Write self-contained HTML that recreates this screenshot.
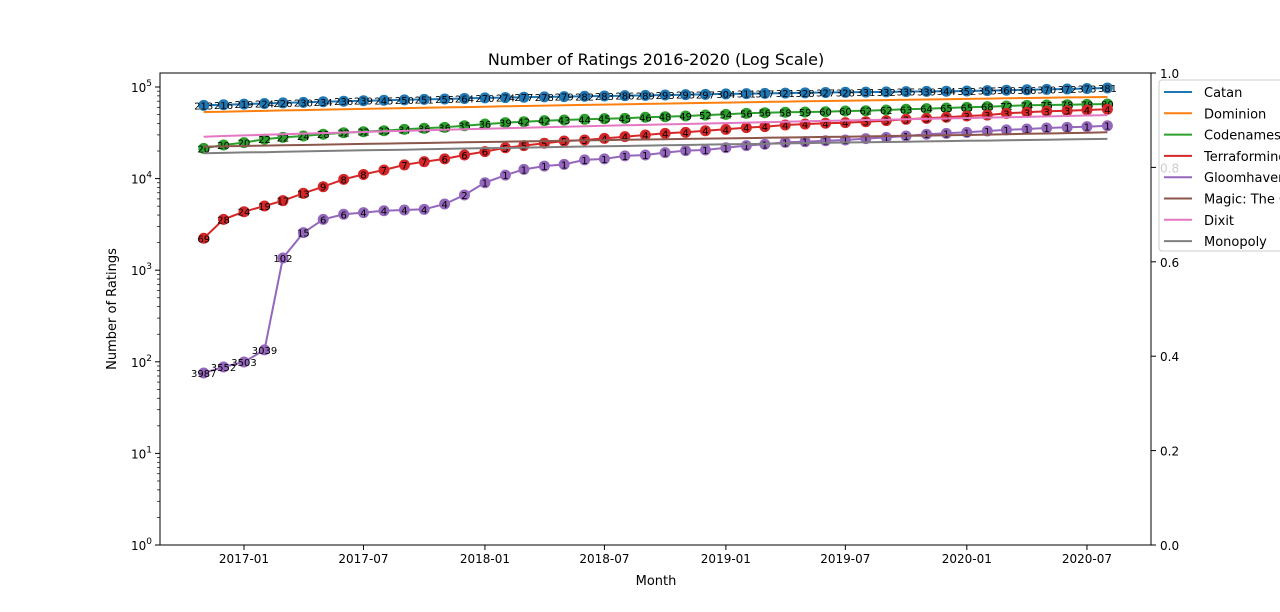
<!DOCTYPE html>
<html><head><meta charset="utf-8"><style>
body{margin:0;background:#fff;}
svg{display:block;font-family:"DejaVu Sans","Liberation Sans",sans-serif;}
</style></head><body>
<svg id="chart" width="1280" height="612" viewBox="0 0 1280 612"></svg>
<script>
const catan=[63000,64000,65000,66000,67000,68000,69000,70000,70800,71600,72400,73200,74000,75000,76000,76700,77400,78000,78600,79200,79800,80400,81000,81800,82500,83200,84000,84600,85200,85800,86400,87000,87500,88000,88500,89000,89500,90000,90500,91400,92300,93200,94200,95200,96200,97500];
const dominion=[53300,53800,54400,54900,55500,56000,56600,57100,57700,58200,58800,59300,59900,60400,61000,61500,62100,62600,63200,63700,64300,64800,65400,65900,66500,67000,67600,68100,68700,69200,69800,70300,70900,71400,72000,72500,73100,73600,74200,74700,75300,75800,76400,76900,77400,77800];
const codenames=[21400,23300,24700,26900,28200,29200,30500,31700,32500,33300,34500,35400,36300,37800,39400,40800,41800,42900,43600,44400,45100,45500,46700,47400,48200,49400,50300,51600,52400,53000,53300,53700,54700,55100,56100,57100,58000,59000,60000,61000,62100,63100,63600,64100,64600,65200];
const terraforming=[2230,3590,4350,5020,5740,6910,8160,9820,11100,12400,14100,15300,16400,18100,19700,21700,22900,24300,25700,26400,27500,28700,29900,31200,32000,33300,34500,36000,36900,38500,39400,40200,40800,41800,42900,44400,45500,46700,48200,49400,51600,53000,54300,55100,56100,57100];
const gloomhaven=[75.5,87.7,99.5,135,1360,2570,3590,4080,4250,4460,4540,4620,5280,6620,9020,10900,12600,13700,14300,16000,16400,17700,18100,19200,20200,20500,21700,22900,23700,24900,25300,25900,26400,27300,28200,29200,30500,31200,32000,33100,34000,34800,35700,36300,36900,37800];
const magic=[22300,22500,22700,22900,23100,23300,23500,23700,23900,24100,24300,24500,24700,24900,25100,25300,25500,25700,25900,26100,26300,26500,26700,26900,27100,27300,27500,27700,27900,28100,28300,28500,28700,28900,29100,29300,29500,29700,29900,30200,30500,30800,31100,31400,31700,32000];
const dixit=[28700,29200,29600,30100,30500,31000,31400,31900,32300,32800,33200,33700,34100,34600,35000,35500,35900,36400,36800,37300,37700,38200,38600,39100,39500,40000,40400,40900,41300,41800,42200,42700,43100,43600,44000,44500,44900,45400,45800,46300,46700,47200,47700,48300,48800,49400];
const monopoly=[18900,19100,19300,19400,19600,19800,20000,20200,20400,20500,20700,20900,21100,21300,21500,21600,21800,22000,22200,22400,22600,22700,22900,23100,23300,23500,23700,23800,24000,24200,24400,24600,24800,24900,25100,25300,25500,25700,25900,26000,26200,26400,26600,26800,27000,27100];
const catanRank=[213,216,219,224,226,230,234,236,239,245,250,251,255,264,270,274,277,278,279,282,283,286,289,293,293,297,304,311,317,321,328,327,328,331,332,335,339,344,352,355,360,366,370,372,373,381];
const codenamesRank=[20,20,20,22,22,24,28,32,32,33,34,36,36,35,36,39,42,42,43,44,45,45,46,48,49,52,54,56,56,58,59,60,60,62,62,63,64,65,65,68,72,74,75,78,78,80];
const terraRank=[69,28,24,19,17,13,9,8,8,7,7,7,6,6,6,5,5,5,5,5,4,4,4,4,4,4,4,4,4,4,4,4,4,3,3,3,3,3,3,3,3,3,3,3,4,4];
const gloomRank=[3987,3552,3503,3039,102,15,6,6,4,4,4,4,4,2,1,1,1,1,1,1,1,1,1,1,1,1,1,1,1,1,1,1,1,1,1,1,1,1,1,1,1,1,1,1,1,1];
const seriesNames=["Catan","Dominion","Codenames","Terraforming Mars","Gloomhaven","Magic: The Gathering","Dixit","Monopoly"];
const xTickLabels=["2017-01","2017-07","2018-01","2018-07","2019-01","2019-07","2020-01","2020-07"];
const yTickExps=[0,1,2,3,4,5];
const rightTicks=["0.0","0.2","0.4","0.6","0.8","1.0"];

const NS="http://www.w3.org/2000/svg";
const svg=document.getElementById('chart');
function mk(tag,attrs,parent){const e=document.createElementNS(NS,tag);for(const k in attrs)e.setAttribute(k,attrs[k]);(parent||svg).appendChild(e);return e;}
const L=160,R=1151,T=73,B=545;
const t0=Date.UTC(2017,0,1);
function xs(ms){return 244+(ms-t0)/86400000*0.6601;}
function ys(v){return 545-Math.log10(v)*91.6;}
const dates=[];for(let i=0;i<46;i++)dates.push(Date.UTC(2016,10+i,1));

let t=mk('text',{x:656,y:65,'text-anchor':'middle','font-size':16,fill:'#000'});t.textContent="Number of Ratings 2016-2020 (Log Scale)";



const clip=mk('clipPath',{id:'pc'});mk('rect',{x:L,y:T,width:R-L,height:B-T},clip);
const plot=mk('g',{'clip-path':'url(#pc)'});



const colors=["#1f77b4","#ff7f0e","#2ca02c","#d62728","#9467bd","#8c564b","#e377c2","#7f7f7f"];
const data=[catan,dominion,codenames,terraforming,gloomhaven,magic,dixit,monopoly];
const ranks=[catanRank,null,codenamesRank,terraRank,gloomRank,null,null,null];
const keys=["catan","dominion","codenames","terraforming","gloomhaven","magic","dixit","monopoly"];
data.forEach((arr,s)=>{
  const g=mk('g',{},plot);
  
  
  const pts=arr.map((v,i)=>xs(dates[i]).toFixed(1)+','+ys(v).toFixed(1)).join(' ');
  const pl=mk('polyline',{points:pts,fill:'none',stroke:colors[s],'stroke-width':2},g);
  
  
  if(ranks[s]){
    arr.forEach((v,i)=>{
      const c=mk('circle',{cx:xs(dates[i]),cy:ys(v),r:5.5,fill:colors[s]},g);
      
      
    });
    arr.forEach((v,i)=>{
      const tx=mk('text',{x:xs(dates[i]),y:ys(v)+4,'text-anchor':'middle','font-size':10,fill:'#000'},g);
      tx.textContent=ranks[s][i];
      
      
    });
  }
});

const fr=mk('rect',{x:L,y:T,width:R-L,height:B-T,fill:'none',stroke:'#000','stroke-width':1});



xTickLabels.forEach(lbl=>{
  const p=lbl.split('-');const x=xs(Date.UTC(+p[0],+p[1]-1,1));
  mk('line',{x1:x,x2:x,y1:B,y2:B+5,stroke:'#000'});
  const e=mk('text',{x:x,y:B+18,'text-anchor':'middle','font-size':12,fill:'#000'});e.textContent=lbl;
  
  
});
t=mk('text',{x:656,y:585,'text-anchor':'middle','font-size':13,fill:'#000'});t.textContent="Month";



yTickExps.forEach(e=>{
  const y=ys(Math.pow(10,e));
  mk('line',{x1:L-5,x2:L,y1:y,y2:y,stroke:'#000'});
  const tx=mk('text',{x:L-8,y:y+5,'text-anchor':'end','font-size':12,fill:'#000'});
  tx.textContent='10';
  const sp=mk('tspan',{dy:-6,'font-size':9},tx);sp.textContent=e;
  
  
  if(e<5){for(let m=2;m<10;m++){const yy=ys(m*Math.pow(10,e));mk('line',{x1:L-3,x2:L,y1:yy,y2:yy,stroke:'#000','stroke-width':0.7});}}
});
for(let m=2;m<=10;m++){const yy=ys(m*1e5);if(yy>T)mk('line',{x1:L-3,x2:L,y1:yy,y2:yy,stroke:'#000','stroke-width':0.7});}
t=mk('text',{x:116,y:309,'text-anchor':'middle','font-size':13,fill:'#000',transform:'rotate(-90 116 309)'});t.textContent="Number of Ratings";



rightTicks.forEach((lbl,i)=>{
  const y=B-i*(B-T)/5;
  mk('line',{x1:R,x2:R+5,y1:y,y2:y,stroke:'#000'});
  const e=mk('text',{x:R+9,y:y+5,'font-size':12,fill:'#000'});e.textContent=lbl;
  
  
});

const lg=mk('g',{});


mk('rect',{x:1159,y:80,width:130,height:171,rx:3,fill:'#fff','fill-opacity':0.8,stroke:'#ccc'},lg);
seriesNames.forEach((n,i)=>{
  const y=92+i*21.3;
  const eg=mk('g',{},lg);
  
  
  mk('line',{x1:1164,x2:1192,y1:y,y2:y,stroke:colors[i],'stroke-width':2},eg);
  const e=mk('text',{x:1204,y:y+5,'font-size':13,fill:'#000'},eg);e.textContent=n;
});
</script>
</body></html>
